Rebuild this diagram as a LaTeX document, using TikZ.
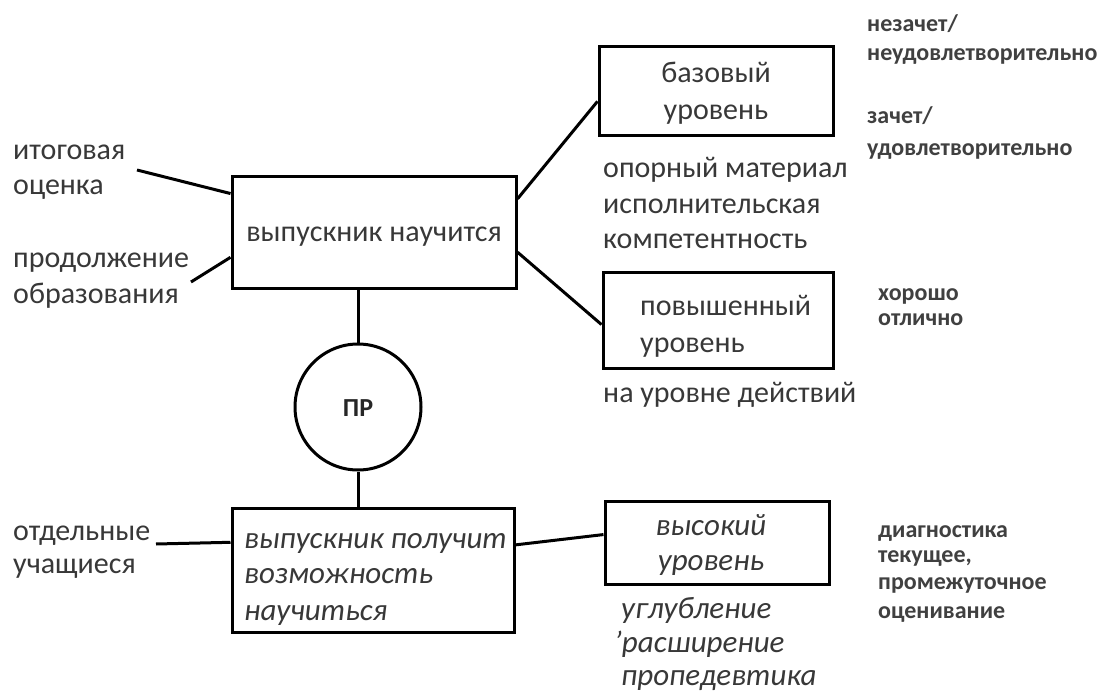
\documentclass[tikz,border=0pt]{standalone}
\usepackage{fontspec}
\setmainfont{Carlito}
\begin{document}
\begin{tikzpicture}[x=1pt,y=-1pt,
  box/.style={draw=black,line width=3pt,inner sep=0pt},
  conn/.style={draw=black,line width=3pt},
  big/.style={font=\fontsize{30}{36}\selectfont,text=black!78,inner sep=0pt},
  bigi/.style={font=\fontsize{31}{36}\selectfont\itshape,text=black!78,inner sep=0pt},
  small/.style={font=\fontsize{24}{28}\selectfont\bfseries,text=black!75,inner sep=0pt}]
\useasboundingbox[fill=white] (0,0) rectangle (1109,693);
% boxes
\node[box,minimum width=284pt,minimum height=112pt] (main) at (374,232) {};
\node[box,minimum width=282pt,minimum height=124pt] (low) at (373,570) {};
\node[box,minimum width=234pt,minimum height=88pt] (base) at (716,91) {};
\node[box,minimum width=230pt,minimum height=96pt] (pov) at (718,320.5) {};
\node[box,minimum width=224pt,minimum height=83pt] (high) at (717,542.5) {};
\node[draw=black,line width=3pt,circle,minimum size=126pt,inner sep=0pt] (pr) at (358,407) {};
% box texts
\node[big,anchor=base] (tmain) at (374,241) {выпускник научится};
\node[font=\fontsize{26}{30}\selectfont\bfseries,text=black!85,anchor=base] (tpr) at (358,416) {ПР};
\node[big,anchor=base] (tb1) at (716,83) {базовый};
\node[big,anchor=base] (tb2) at (716,119) {уровень};
\node[big,anchor=base west] (tp1) at (640,315) {повышенный};
\node[big,anchor=base west] (tp2) at (640,352) {уровень};
\node[bigi,anchor=base west] (tl1) at (244,548) {выпускник получит};
\node[bigi,anchor=base west] (tl2) at (244,583) {возможность};
\node[bigi,anchor=base west] (tl3) at (244,620) {научиться};
\node[bigi,anchor=base] (th1) at (711,535) {высокий};
\node[bigi,anchor=base] (th2) at (711,570) {уровень};
% left labels
\node[big,anchor=base west] (la1) at (13,159) {итоговая};
\node[big,anchor=base west] (la2) at (13,194) {оценка};
\node[big,anchor=base west] (lb1) at (13,267) {продолжение};
\node[big,anchor=base west] (lb2) at (13,303) {образования};
\node[big,anchor=base west] (lc1) at (13,540) {отдельные};
\node[big,anchor=base west] (lc2) at (13,573) {учащиеся};
% middle labels
\node[big,anchor=base west] (m1) at (603,177) {опорный материал};
\node[big,anchor=base west] (m2) at (603,213) {исполнительская};
\node[big,anchor=base west] (m3) at (603,248) {компетентность};
\node[big,anchor=base west] (m4) at (603,402) {на уровне действий};
\node[bigi,anchor=base west] (m5) at (621,618) {углубление};
\node[bigi,anchor=base west] (m6) at (614,652) {'расширение};
\node[bigi,anchor=base west] (m7) at (621,685) {пропедевтика};
% right labels
\node[small,anchor=base west] (r1) at (867,32) {незачет/};
\node[small,anchor=base west] (r2) at (867,61) {неудовлетворительно};
\node[small,anchor=base west] (r3) at (867,123) {зачет/};
\node[small,anchor=base west] (r4) at (867,155) {удовлетворительно};
\node[small,anchor=base west] (r5) at (878,300) {хорошо};
\node[small,anchor=base west] (r6) at (878,325) {отлично};
\node[small,anchor=base west] (r7) at (878,537) {диагностика};
\node[small,anchor=base west] (r8) at (878,562) {текущее,};
\node[small,anchor=base west] (r9) at (878,589) {промежуточное};
\node[small,anchor=base west] (r10) at (878,618) {оценивание};
% free ends
\coordinate (ca) at (137,170);
\coordinate (cb) at (191,282);
\coordinate (cc) at (156,544);
% connectors
\draw[conn] (ca) -- (main.165);
\draw[conn] (cb) -- (main.190);
\draw[conn] (main.13) -- (base.185);
\draw[conn] (main.-8) -- (pov.182);
\draw[conn] (pr.north) -- (pr.north |- main.south);
\draw[conn] (pr.south) -- (pr.south |- low.north);
\draw[conn] (cc) -- (low.169.5);
\draw[conn] (low.10.5) -- (high.176);
\end{tikzpicture}
\end{document}
